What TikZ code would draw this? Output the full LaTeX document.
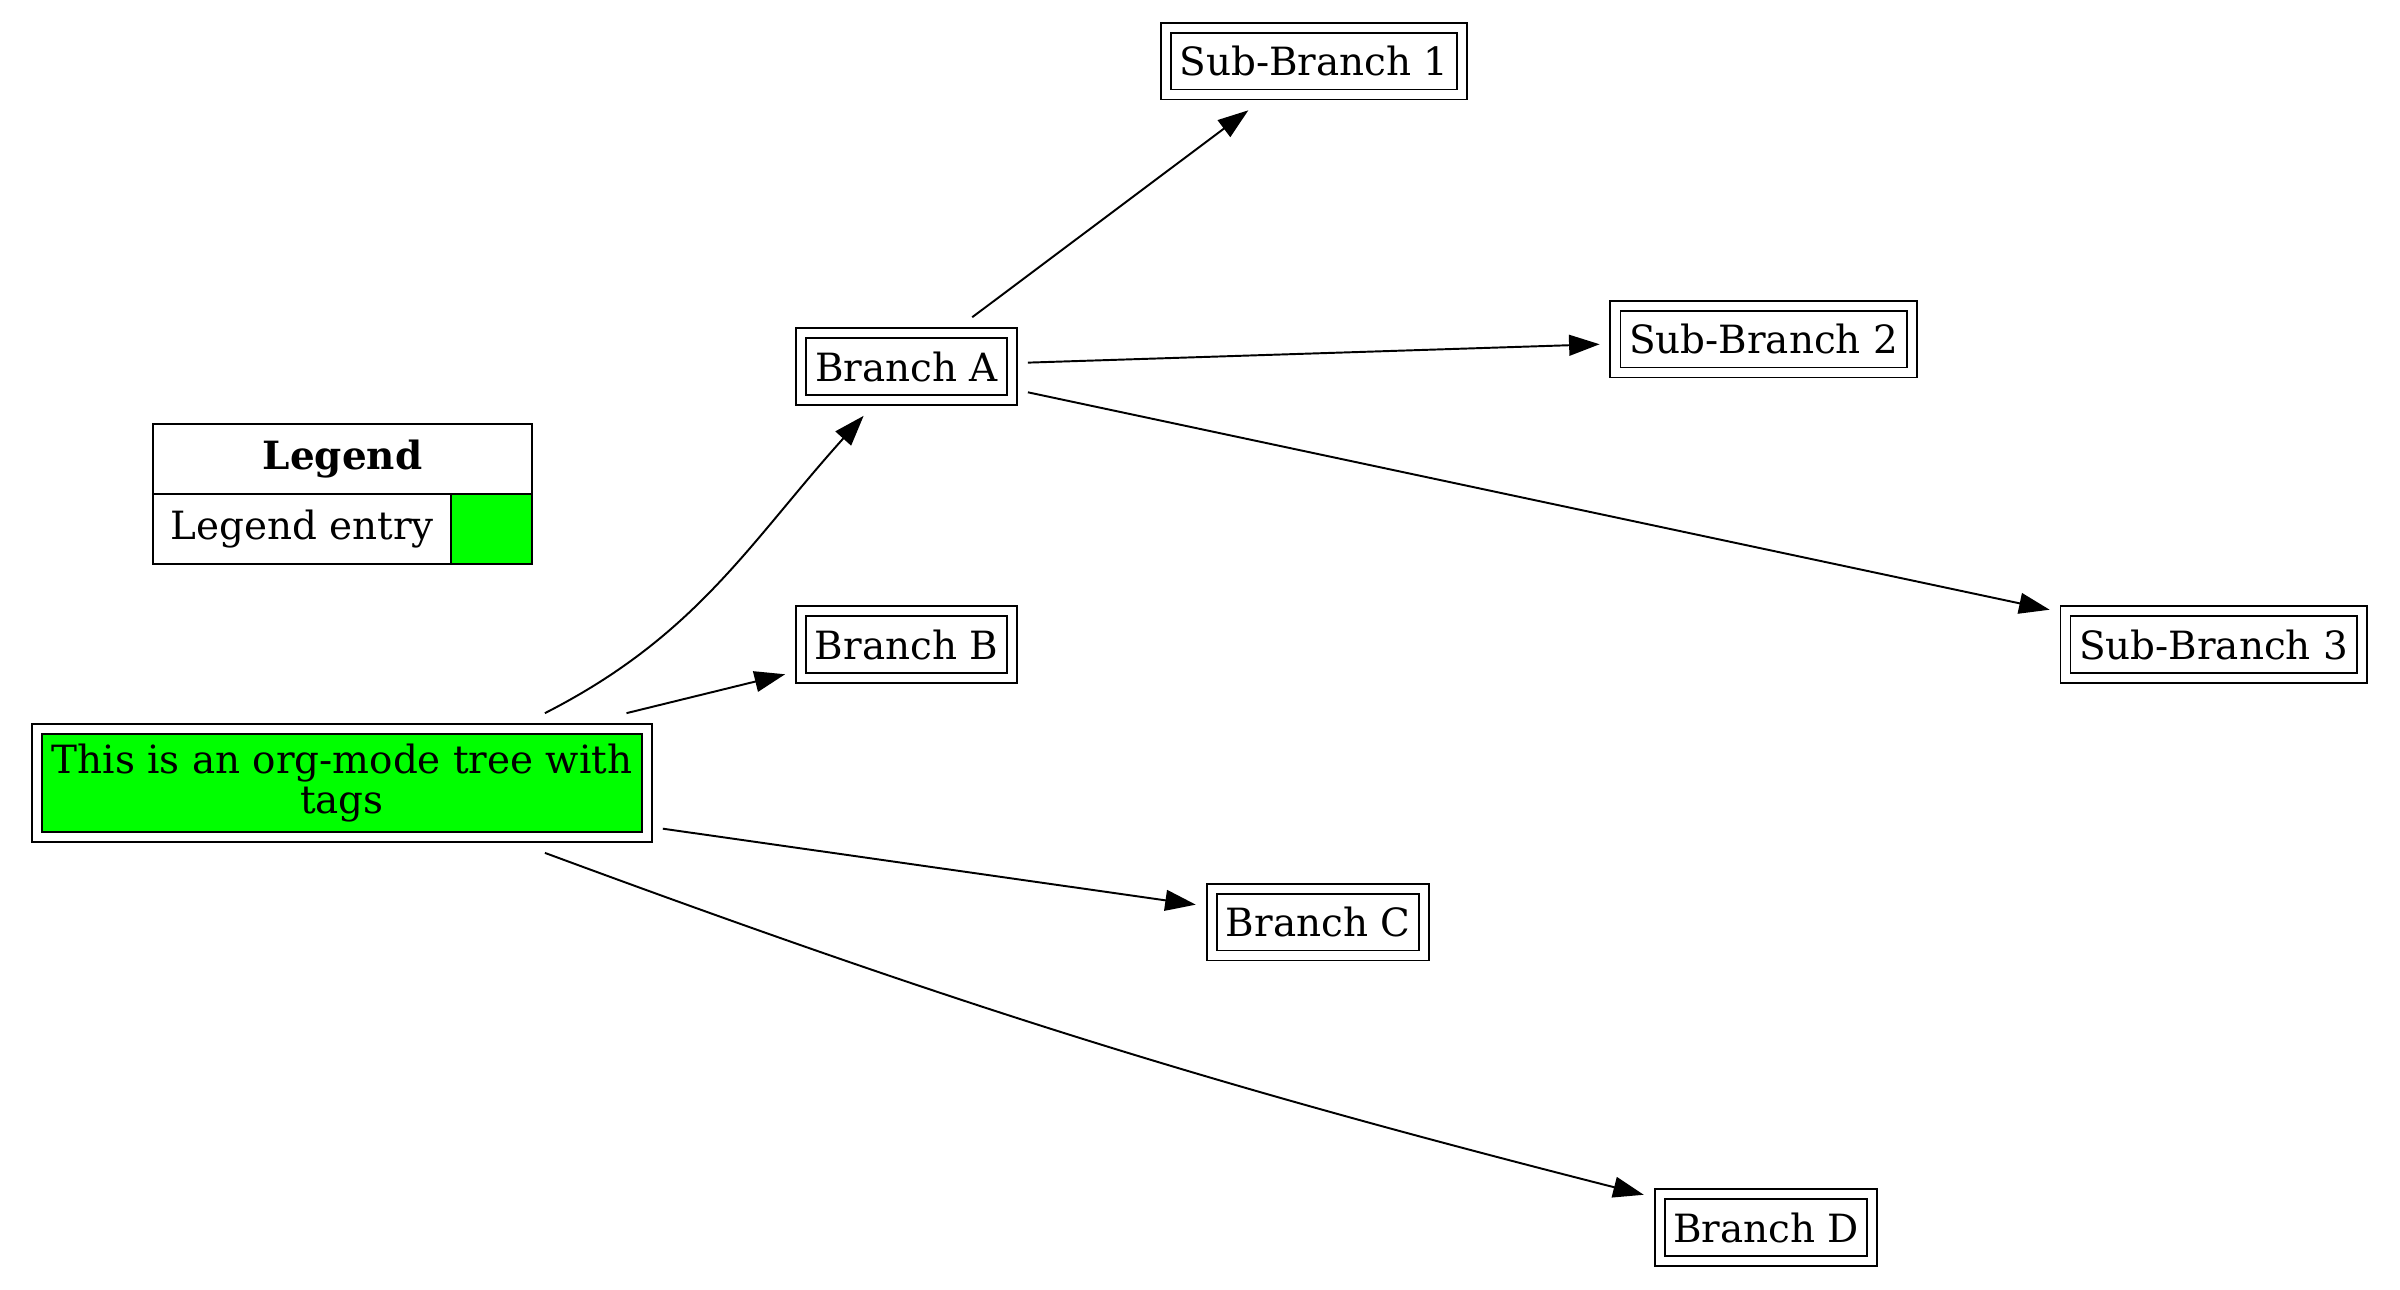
\documentclass[tikz,border=0pt]{standalone}
\usepackage{fontspec}
\setmainfont{DejaVu Serif}
\usetikzlibrary{arrows.meta}

\begin{document}
\begin{tikzpicture}[x=0.36pt, y=0.36pt, line width=0.7pt,
    every node/.style={font=\fontsize{14}{14.5}\selectfont},
    box/.style={draw, double, double distance=2.9pt, rectangle, inner sep=0pt, outer sep=5.7pt, minimum height=24.1pt},
    cell/.style={draw, rectangle, inner sep=0pt, outer sep=0pt, minimum height=25.2pt},
    >={Triangle[length=11pt, width=7.5pt]}]
    \useasboundingbox (0,0) rectangle (2400,-1289);

    \node[box, fill=green, align=center, minimum width=219.6pt, minimum height=38.9pt] (T) at (342,-783) {This is an org-mode tree with\\tags};
    \node[box, minimum width=76pt] (A) at (906.5,-366.5) {Branch A};
    \node[box, minimum width=76pt] (B) at (906.5,-644.5) {Branch B};
    \node[box, minimum width=76.6pt] (C) at (1318,-922) {Branch C};
    \node[box, minimum width=76.6pt] (D) at (1766,-1227.5) {Branch D};
    \node[box, minimum width=106.6pt] (S1) at (1314,-61) {Sub-Branch 1};
    \node[box, minimum width=106.6pt] (S2) at (1763.5,-339) {Sub-Branch 2};
    \node[box, minimum width=106.6pt] (S3) at (2213.5,-644.5) {Sub-Branch 3};

    % legend
    \node[cell, minimum width=136.4pt, font=\fontsize{14}{14.5}\selectfont\bfseries] (L) at (342.5,-459) {Legend};
    \node[cell, minimum width=107.3pt] (L1) at (302,-529) {Legend entry};
    \node[cell, minimum width=29.2pt, fill=green] (L2) at (491.5,-529) {};

    \draw[->] (T.19) to[out=27, in=228] (A.229);
    \draw[->] (T) -- (B);
    \draw[->] (T) -- (C);
    \draw[->] (T.-19) to[bend right=3] (D.165);
    \draw[->] (A) -- (S1);
    \draw[->] (A) -- (S2);
    \draw[->] (A) -- (S3);
\end{tikzpicture}
\end{document}
